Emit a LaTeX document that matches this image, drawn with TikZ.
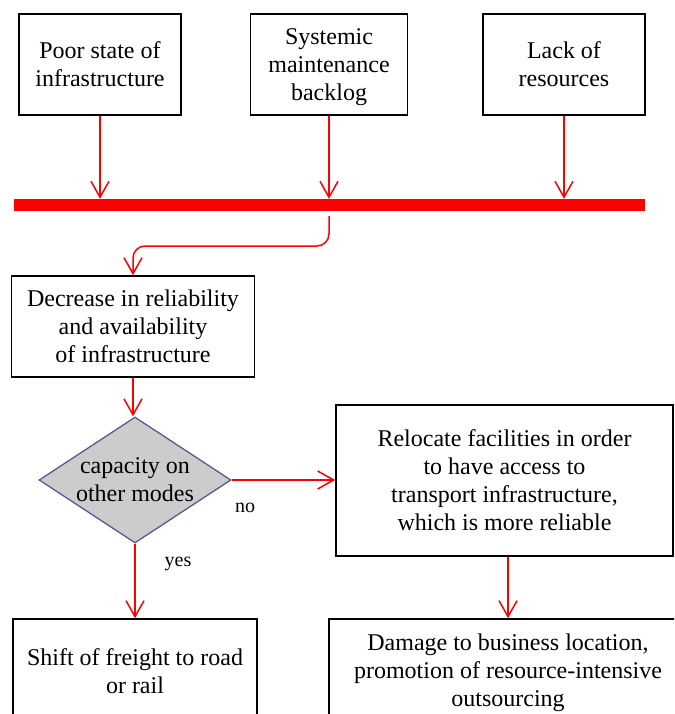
\documentclass[tikz,border=0pt]{standalone}
\usepackage{fontspec}
\setmainfont{Liberation Serif}
\usetikzlibrary{arrows.meta,shapes.geometric}
\definecolor{slate}{RGB}{90,90,140}
\begin{document}
\begin{tikzpicture}[x=1pt,y=-1pt,
  box/.style={draw=black, line width=1.6pt, rectangle, inner sep=0pt,
    align=center, text depth=-4pt, font=\fontsize{24}{28}\selectfont},
  decision/.style={diamond, draw=slate, fill=gray!40, line width=1.3pt,
    inner sep=0pt, aspect=1.52, minimum width=192pt, minimum height=126pt,
    align=center, text depth=-3pt, font=\fontsize{24}{28}\selectfont},
  link/.style={draw=red, line width=1.5pt,
    -{Straight Barb[length=16pt,width=18pt]}},
  lbl/.style={inner sep=0pt, font=\fontsize{20}{24}\selectfont}]
\useasboundingbox (0,0) rectangle (674,714);
\clip (0,0) rectangle (674,714);

% causes
\node[box, minimum width=162pt, minimum height=101pt] (poor) at (100,64.5) {Poor state of\\infrastructure};
\node[box, minimum width=157pt, minimum height=101pt] (backlog) at (329,64.5) {Systemic\\maintenance\\backlog};
\node[box, minimum width=162pt, minimum height=101pt] (lack) at (564,64.5) {Lack of\\resources};

% collecting bar
\node[fill=red, inner sep=0pt, minimum width=631pt, minimum height=12pt] (bar) at (329.5,205) {};

% consequences
\node[box, minimum width=243pt, minimum height=101pt] (drop) at (133,326.5) {Decrease in reliability\\and availability\\of infrastructure};
\node[decision] (modes) at (135,480) {capacity on\\other modes};
\node[box, minimum width=337pt, minimum height=151pt] (move) at (504.5,480.5) {Relocate facilities in order\\to have access to\\transport infrastructure,\\which is more reliable};
\node[box, minimum width=244pt, minimum height=104pt] (shift) at (135,671) {Shift of freight to road\\or rail};
\node[box, minimum width=358pt, minimum height=102pt] (damage) at (508,670) {Damage to business location,\\promotion of resource-intensive\\outsourcing};

% branch labels
\node[lbl] (no) at (245,508) {no};
\node[lbl] (yes) at (178,564) {yes};

% connectors
\draw[link] (poor.south) -- (poor.south |- bar.north);
\draw[link] (backlog.south) -- (backlog.south |- bar.north);
\draw[link] (lack.south) -- (lack.south |- bar.north);
\coordinate (bend) at (0,246);
\draw[link, rounded corners=12pt] ([yshift=-5pt]bar.south -| backlog.south) |- (bend -| drop.north) -- (drop.north);
\draw[link] (drop.south) -- (drop.south |- modes.north);
\draw[link] (modes.east) -- (modes.east -| move.west);
\draw[link] (modes.south) -- (shift.north);
\draw[link] (move.south -| damage.north) -- (damage.north);
\end{tikzpicture}
\end{document}
